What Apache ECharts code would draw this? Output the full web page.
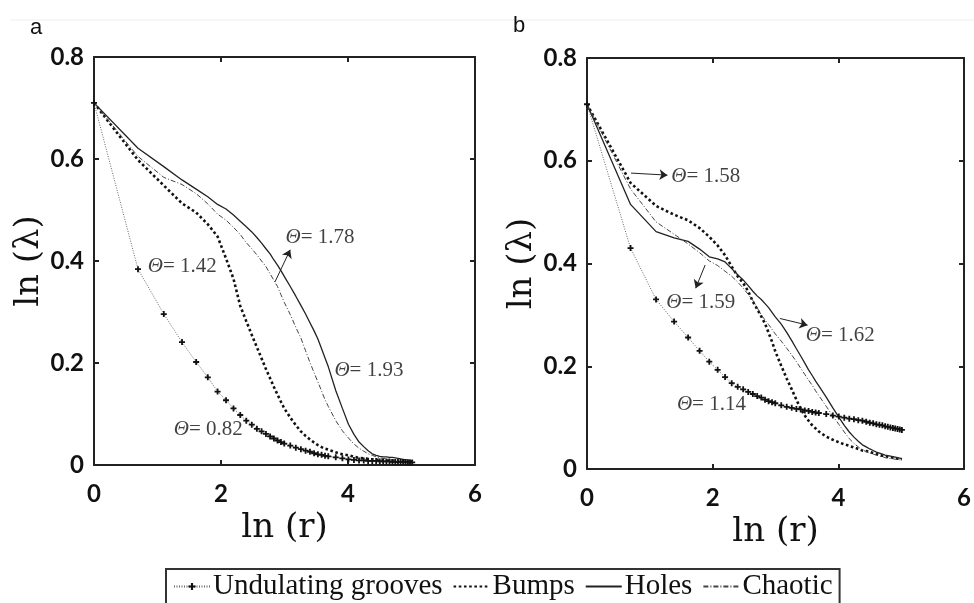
<!DOCTYPE html>
<html>
<head>
<meta charset="utf-8">
<script src="https://cdn.jsdelivr.net/npm/echarts@6/dist/echarts.min.js"></script>
<style>
  html, body { margin: 0; padding: 0; background: #fff; }
  #chart { width: 974px; height: 603px; }
</style>
</head>
<body>
<div id="chart"></div>
<script>
// x positions: ln(r) for r = 1..20, 22..40 step 2, 45..150 step 5
const lnR = [0, 0.693, 1.099, 1.386, 1.609, 1.792, 1.946, 2.079, 2.197, 2.303,
  2.398, 2.485, 2.565, 2.639, 2.708, 2.773, 2.833, 2.890, 2.944, 2.996,
  3.091, 3.178, 3.258, 3.332, 3.401, 3.466, 3.526, 3.584, 3.638, 3.689,
  3.807, 3.912, 4.007, 4.094, 4.174, 4.248, 4.317, 4.382, 4.443, 4.500,
  4.554, 4.605, 4.654, 4.700, 4.745, 4.787, 4.828, 4.868, 4.905, 4.942,
  4.977, 5.011];

const seriesNames = ["Undulating grooves", "Bumps", "Holes", "Chaotic"];

// panel a
const grooveA = [0.710, 0.384, 0.296, 0.241, 0.202, 0.172, 0.144, 0.127, 0.111, 0.098,
  0.087, 0.079, 0.071, 0.066, 0.061, 0.056, 0.052, 0.048, 0.045, 0.042,
  0.038, 0.034, 0.031, 0.028, 0.026, 0.023, 0.021, 0.020, 0.018, 0.017,
  0.015, 0.013, 0.011, 0.010, 0.009, 0.009, 0.008, 0.008, 0.008, 0.007,
  0.007, 0.007, 0.007, 0.006, 0.006, 0.006, 0.006, 0.006, 0.006, 0.005,
  0.005, 0.005];
const bumpsA = [0.710, 0.598, 0.548, 0.513, 0.495, 0.472, 0.448, 0.405, 0.365, 0.312,
  0.282, 0.255, 0.231, 0.209, 0.188, 0.170, 0.153, 0.138, 0.124, 0.111,
  0.093, 0.078, 0.066, 0.057, 0.050, 0.044, 0.039, 0.035, 0.032, 0.030,
  0.025, 0.021, 0.019, 0.016, 0.014, 0.013, 0.012, 0.011, 0.010, 0.010,
  0.009, 0.009, 0.008, 0.008, 0.008, 0.007, 0.007, 0.007, 0.006, 0.006,
  0.006, 0.006];
const holesA = [0.710, 0.621, 0.585, 0.559, 0.541, 0.526, 0.511, 0.502, 0.490, 0.478,
  0.467, 0.457, 0.446, 0.435, 0.424, 0.414, 0.402, 0.392, 0.381, 0.370,
  0.350, 0.331, 0.313, 0.296, 0.279, 0.263, 0.247, 0.228, 0.210, 0.193,
  0.146, 0.111, 0.080, 0.060, 0.045, 0.036, 0.028, 0.022, 0.019, 0.017,
  0.016, 0.016, 0.015, 0.015, 0.014, 0.013, 0.012, 0.011, 0.010, 0.010,
  0.009, 0.008];
const chaoticA = [0.710, 0.605, 0.564, 0.550, 0.532, 0.512, 0.492, 0.480, 0.466, 0.452,
  0.436, 0.424, 0.412, 0.400, 0.389, 0.375, 0.362, 0.350, 0.334, 0.319,
  0.295, 0.270, 0.249, 0.224, 0.201, 0.181, 0.163, 0.145, 0.128, 0.115,
  0.087, 0.067, 0.053, 0.041, 0.033, 0.027, 0.022, 0.019, 0.016, 0.014,
  0.013, 0.012, 0.011, 0.010, 0.009, 0.008, 0.008, 0.007, 0.007, 0.006,
  0.006, 0.006];

// panel b
const grooveB = [0.710, 0.430, 0.330, 0.287, 0.256, 0.230, 0.209, 0.193, 0.179, 0.167,
  0.160, 0.155, 0.150, 0.146, 0.142, 0.139, 0.135, 0.132, 0.130, 0.128,
  0.124, 0.121, 0.119, 0.117, 0.116, 0.114, 0.113, 0.111, 0.110, 0.109,
  0.107, 0.104, 0.102, 0.100, 0.098, 0.097, 0.095, 0.094, 0.092, 0.090,
  0.089, 0.087, 0.086, 0.085, 0.083, 0.082, 0.081, 0.080, 0.079, 0.078,
  0.077, 0.076];
const bumpsB = [0.710, 0.557, 0.512, 0.495, 0.484, 0.469, 0.452, 0.435, 0.416, 0.394,
  0.375, 0.362, 0.346, 0.326, 0.311, 0.297, 0.283, 0.265, 0.248, 0.229,
  0.201, 0.176, 0.155, 0.135, 0.117, 0.104, 0.094, 0.085, 0.079, 0.073,
  0.063, 0.057, 0.052, 0.048, 0.045, 0.042, 0.039, 0.036, 0.035, 0.033,
  0.031, 0.029, 0.027, 0.026, 0.025, 0.024, 0.023, 0.022, 0.021, 0.020,
  0.020, 0.019];
const holesB = [0.710, 0.515, 0.462, 0.450, 0.443, 0.428, 0.413, 0.409, 0.403, 0.390,
  0.378, 0.368, 0.357, 0.346, 0.337, 0.330, 0.322, 0.314, 0.305, 0.296,
  0.282, 0.266, 0.250, 0.234, 0.220, 0.206, 0.193, 0.182, 0.171, 0.162,
  0.140, 0.119, 0.101, 0.085, 0.072, 0.062, 0.054, 0.047, 0.043, 0.039,
  0.036, 0.033, 0.031, 0.029, 0.027, 0.026, 0.025, 0.024, 0.023, 0.022,
  0.021, 0.020];
const chaoticB = [0.710, 0.545, 0.481, 0.457, 0.438, 0.421, 0.405, 0.396, 0.385, 0.375,
  0.364, 0.352, 0.340, 0.328, 0.314, 0.300, 0.290, 0.281, 0.272, 0.263,
  0.249, 0.235, 0.222, 0.209, 0.196, 0.184, 0.173, 0.163, 0.152, 0.143,
  0.122, 0.103, 0.087, 0.072, 0.059, 0.050, 0.043, 0.037, 0.034, 0.031,
  0.029, 0.027, 0.025, 0.024, 0.022, 0.021, 0.020, 0.020, 0.019, 0.019,
  0.018, 0.018];

const xTicks = [0, 2, 4, 6];
const yTicks = [0, 0.2, 0.4, 0.6, 0.8];

// annotations: [x, y, theta]
const notesA = [[3.56, 0.447, "1.78"], [1.39, 0.390, "1.42"], [4.33, 0.186, "1.93"], [1.80, 0.069, "0.82"]];
const arrowsA = [[2.85, 0.359, 3.09, 0.422]];
const notesB = [[1.89, 0.570, "1.58"], [1.81, 0.325, "1.59"], [4.03, 0.259, "1.62"], [1.98, 0.125, "1.14"]];
const arrowsB = [[0.70, 0.576, 1.28, 0.572], [1.88, 0.397, 1.73, 0.352], [3.07, 0.293, 3.51, 0.280]];

const chart = echarts.init(document.getElementById("chart"));

const ink = "#222";
const plusPath = "path://M3.5,0h3v10h-3z M0,3.5h10v3h-10z";

function pairs(ys) {
  return lnR.map((x, i) => [x, ys[i]]);
}

function lineSeries(gi, groove, bumps, holes, chaotic) {
  return [
    {
      name: seriesNames[0], type: "line", xAxisIndex: gi * 2, yAxisIndex: gi * 2,
      data: pairs(groove), symbol: plusPath, symbolSize: 6,
      itemStyle: { color: "#111" },
      lineStyle: { color: "#666", width: 1, type: [1, 1.5] },
    },
    {
      // itemStyle transparent so the legend shows only the line
      name: seriesNames[1], type: "line", xAxisIndex: gi * 2, yAxisIndex: gi * 2,
      data: pairs(bumps), symbol: "none",
      itemStyle: { color: "transparent" },
      lineStyle: { color: "#111", width: 2.6, type: [2.6, 2.6] },
    },
    {
      name: seriesNames[2], type: "line", xAxisIndex: gi * 2, yAxisIndex: gi * 2,
      data: pairs(holes), symbol: "none",
      itemStyle: { color: "transparent" },
      lineStyle: { color: "#222", width: 1.3 },
    },
    {
      name: seriesNames[3], type: "line", xAxisIndex: gi * 2, yAxisIndex: gi * 2,
      data: pairs(chaotic), symbol: "none",
      itemStyle: { color: "transparent" },
      lineStyle: { color: "#444", width: 1, type: [5, 2, 1, 2] },
    },
  ];
}

function noteSeries(gi, notes, arrows) {
  return {
    type: "scatter", xAxisIndex: gi * 2, yAxisIndex: gi * 2,
    data: notes, symbolSize: 1, silent: true,
    itemStyle: { color: "transparent" },
    label: {
      show: true, position: "inside", color: "#111",
      fontFamily: "Liberation Serif", fontSize: 21,
      formatter: (p) => "{t|Θ}= " + p.data[2],
      rich: { t: { fontFamily: "Liberation Serif", fontSize: 21, fontStyle: "italic", color: "#111" } },
    },
    markLine: {
      silent: true, symbol: ["none", "arrow"], symbolSize: 8,
      label: { show: false },
      lineStyle: { color: ink, width: 1, type: "solid" },
      data: arrows.map((a) => [{ coord: [a[0], a[1]] }, { coord: [a[2], a[3]] }]),
    },
  };
}

function xAxes(gi) {
  const base = {
    gridIndex: gi, type: "value", min: xTicks[0], max: xTicks[xTicks.length - 1], interval: 2,
    axisLine: { onZero: false, lineStyle: { color: ink, width: 2 } },
    axisTick: { inside: true, length: 5, lineStyle: { color: ink, width: 2 } },
    splitLine: { show: false },
  };
  return [
    Object.assign({}, base, {
      position: "bottom",
      name: "ln (r)", nameLocation: "middle", nameGap: 30,
      nameTextStyle: { fontFamily: "DejaVu Serif", fontSize: 34, color: "#111" },
      axisLabel: { margin: 17, fontFamily: "Lato", fontWeight: "bold", fontSize: 24, color: "#111" },
    }),
    Object.assign({}, base, { position: "top", axisLabel: { show: false } }),
  ];
}

function yAxes(gi) {
  const base = {
    gridIndex: gi, type: "value", min: yTicks[0], max: yTicks[yTicks.length - 1], interval: 0.2,
    axisLine: { onZero: false, lineStyle: { color: ink, width: 2 } },
    axisTick: { inside: true, length: 5, lineStyle: { color: ink, width: 2 } },
    splitLine: { show: false },
  };
  return [
    Object.assign({}, base, {
      position: "left",
      name: "ln (λ)", nameLocation: "middle", nameGap: 48,
      nameTextStyle: { fontFamily: "DejaVu Serif", fontSize: 34, color: "#111" },
      axisLabel: {
        margin: 10, fontFamily: "Lato", fontWeight: "bold", fontSize: 24, color: "#111",
        formatter: (v) => (v === 0 ? "0" : v.toFixed(1)),
      },
    }),
    Object.assign({}, base, { position: "right", axisLabel: { show: false } }),
  ];
}

const option = {
  animation: false,
  backgroundColor: "#fff",
  grid: [
    { left: 94, top: 57, width: 381, height: 408 },
    { left: 587, top: 58, width: 382, height: 411 },
  ],
  xAxis: [...xAxes(0), ...xAxes(1)],
  yAxis: [...yAxes(0), ...yAxes(1)],
  legend: {
    data: seriesNames,
    left: 166, top: 569,
    orient: "horizontal",
    itemWidth: 36, itemHeight: 9, itemGap: 10,
    padding: [3, 7, 16, 7],
    borderColor: "#333", borderWidth: 2,
    textStyle: { fontFamily: "Liberation Serif", fontSize: 29, color: "#111", padding: [0, 0, 0, -2] },
  },
  graphic: [
    { type: "line", shape: { x1: 10, y1: 20, x2: 974, y2: 20 }, style: { stroke: "#eee", lineWidth: 1 } },
    { type: "text", left: 30, top: 17, style: { text: "a", fontFamily: "Liberation Sans", fontSize: 22, fill: "#111" } },
    { type: "text", left: 513, top: 15, style: { text: "b", fontFamily: "Liberation Sans", fontSize: 22, fill: "#111" } },
  ],
  series: [
    ...lineSeries(0, grooveA, bumpsA, holesA, chaoticA),
    ...lineSeries(1, grooveB, bumpsB, holesB, chaoticB),
    noteSeries(0, notesA, arrowsA),
    noteSeries(1, notesB, arrowsB),
  ],
};

chart.setOption(option);
</script>
</body>
</html>
